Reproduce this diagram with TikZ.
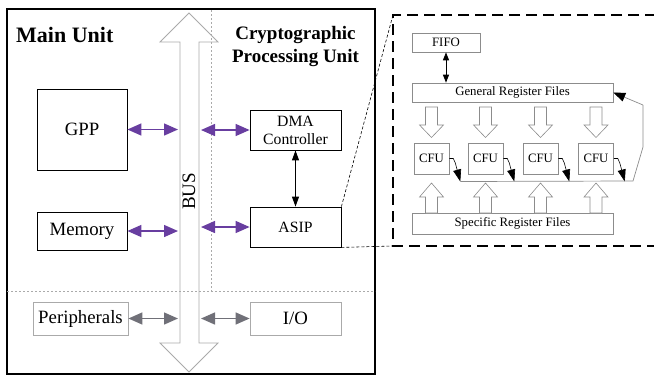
\documentclass[tikz,border=0pt]{standalone}
\usepackage{fontspec}
\setmainfont{Liberation Serif}
\usetikzlibrary{arrows.meta,calc}
\definecolor{pur}{RGB}{104,62,160}
\definecolor{garr}{RGB}{112,112,120}
\definecolor{lgray}{RGB}{170,170,170}
\definecolor{bgray}{RGB}{140,140,140}
\tikzset{
 hdown/.pic={\draw[bgray,line width=0.6pt,fill=white] (-6,0) -- (6,0) -- (6,18) -- (12,18) -- (0,30.5) -- (-12,18) -- (-6,18) -- cycle;},
 hup/.pic={\draw[bgray,line width=0.6pt,fill=white] (-6,0) -- (6,0) -- (6,-16) -- (12,-16) -- (0,-30) -- (-12,-16) -- (-6,-16) -- cycle;}
}
\begin{document}
\begin{tikzpicture}[x=1pt,y=-1pt,
 box/.style={draw=black,line width=0.8pt,inner sep=0pt,align=center,font=\rmfamily\fontsize{18.8}{21}\selectfont},
 sbox/.style={draw=black,line width=0.8pt,inner sep=0pt,align=center,font=\rmfamily\fontsize{15.7}{18}\selectfont},
 gbox/.style={draw=lgray,line width=0.8pt,inner sep=0pt,font=\rmfamily\fontsize{18.8}{21}\selectfont},
 dbx/.style={draw=bgray,line width=0.6pt,inner sep=0pt,font=\rmfamily\fontsize{12.8}{14}\selectfont},
 parr/.style={pur,line width=1.4pt,{Triangle[length=14pt,width=12pt]}-{Triangle[length=14pt,width=12pt]}},
 garrow/.style={garr,line width=1.4pt,{Triangle[length=14pt,width=12pt]}-{Triangle[length=14pt,width=12pt]}},
 barr/.style={black,line width=0.9pt,{Triangle[length=10pt,width=7pt]}-{Triangle[length=10pt,width=7pt]}},
 farr/.style={black,line width=0.9pt,{Triangle[length=8pt,width=6pt]}-{Triangle[length=8pt,width=6pt]}},
 carr/.style={black,line width=0.6pt,-{Triangle[length=12pt,width=8pt]}},
 dotl/.style={lgray,line width=0.6pt,dash pattern=on 2pt off 2pt},
 thind/.style={black,line width=0.6pt,dash pattern=on 3pt off 2pt},
 dbox/.style={black,line width=1.8pt,dash pattern=on 11pt off 6pt}
]
\useasboundingbox (0,0) rectangle (654,376);
% main frame
\draw[line width=1.5pt] (7,9) rectangle (375,374);
% bus
\draw[lgray,line width=0.8pt] (180,42) -- (160,42) -- (189,13) -- (218,42) -- (199,42) -- (199,343) -- (218,343) -- (189,372) -- (160,343) -- (180,343) -- cycle;
\node[rotate=90,font=\rmfamily\fontsize{19}{22}\selectfont] (bus) at (189,191.5) {BUS};
\coordinate (bl) at (178,0);
\coordinate (br) at (201,0);
% dotted separators
\draw[dotl] (211,10) -- (211,291);
\draw[dotl] (7,291) -- (375,291);
% titles
\node[font=\rmfamily\fontsize{22}{24}\selectfont\bfseries,anchor=west,inner sep=0pt] (mu) at (16,35) {Main Unit};
\node[font=\rmfamily\fontsize{19}{23}\selectfont\bfseries,align=center,inner sep=0pt] (cpu) at (295.5,46.5) {Cryptographic\\Processing Unit};
% boxes
\node[box,minimum width=90pt,minimum height=81pt] (gpp) at (82,129.5) {GPP};
\node[box,minimum width=90pt,minimum height=38pt] (mem) at (82,231) {Memory};
\node[gbox,minimum width=95pt,minimum height=33pt] (per) at (80.5,318.5) {Peripherals};
\node[sbox,minimum width=91pt,minimum height=40pt] (dma) at (295.5,130) {DMA\\Controller};
\node[sbox,minimum width=91pt,minimum height=40pt] (asip) at (295.5,227) {ASIP};
\node[gbox,minimum width=91pt,minimum height=33pt] (io) at (295.5,318.5) {I/O};
% connectors
\draw[parr] (gpp.east) -- (gpp.east -| bl);
\draw[parr] (br |- dma.west) -- (dma.west);
\draw[parr] (mem.east) -- (mem.east -| bl);
\draw[parr] (br |- asip.west) -- (asip.west);
\draw[garrow] (per.east) -- (per.east -| bl);
\draw[garrow] (br |- io.west) -- (io.west);
\draw[barr] (dma.south) -- (asip.north);
% zoom lines
\coordinate (dtl) at (393,15);
\coordinate (dbl) at (393,246);
\draw[thind] (asip.north east) -- (dtl);
\draw[thind] (asip.south east) -- (dbl);
% detail box
\draw[dbox] (656,15) -- (dtl) -- (dbl) -- (656,246);
% detail contents
\node[dbx,minimum width=68pt,minimum height=19pt] (fifo) at (446,42.5) {FIFO};
\node[dbx,minimum width=201pt,minimum height=19pt] (grf) at (512.5,92.5) {General Register Files};
\node[dbx,minimum width=201pt,minimum height=21pt] (srf) at (512.5,223.5) {Specific Register Files};
\draw[farr] (fifo.south) -- (fifo.south |- grf.north);
\foreach \i/\x in {1/431.5,2/485.5,3/540.5,4/596}{
  \node[dbx,minimum width=35pt,minimum height=31pt] (cfu\i) at (\x,158.5) {CFU};
  \pic at (\x,107) {hdown};
  \pic at (\x,213) {hup};
  \draw[carr] (cfu\i.east) -- ++(4,0) -- ++(2,4.5) -- ++(5,18.5) coordinate (t\i);
}
\draw[bgray,line width=0.7pt] (t1) -- (633,181) -- (643,147) -- (643,105);
\draw[bgray,line width=0.7pt,-{Triangle[length=12pt,width=9pt,black]}] (643,105) -- (grf.east);
\end{tikzpicture}
\end{document}
